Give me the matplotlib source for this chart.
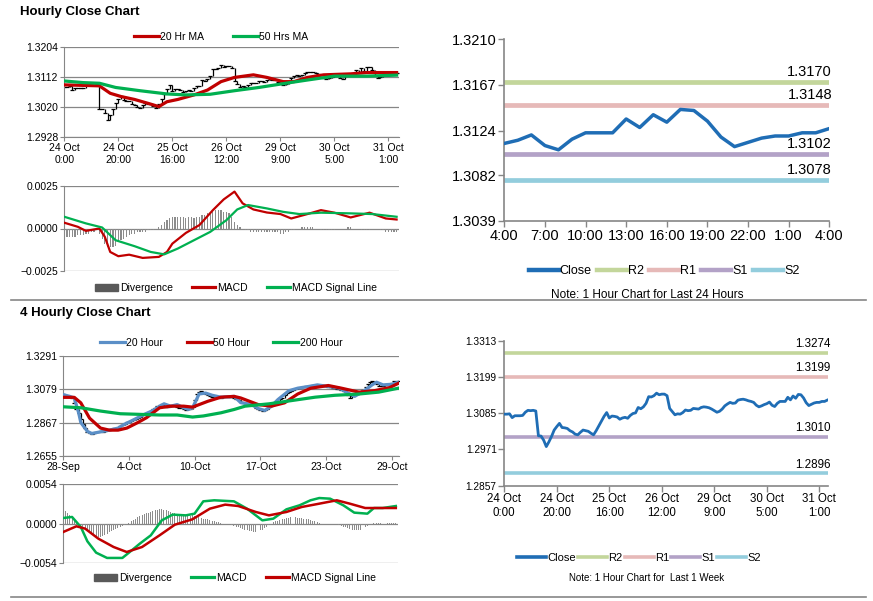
import matplotlib
matplotlib.use("Agg")
import matplotlib.pyplot as plt
from matplotlib import font_manager
import numpy as np

plt.rcParams['font.family'] = ['Liberation Sans', 'DejaVu Sans']

try:
    font_manager.findfont('Liberation Sans Narrow', fallback_to_default=False)
    NARROW = ['Liberation Sans Narrow', 'Liberation Sans']
    NARROW_SIZE = 12
except ValueError:
    NARROW = ['Liberation Sans']
    NARROW_SIZE = 10.5

W, H = 873, 601
GRAY = '#868686'
RED = '#c00000'
GREEN = '#00b050'
BLUE = '#5b8fc7'
CLOSE_BLUE = '#1f6db5'
LEVEL_COLORS = ['#c3d69b', '#e6b9b8', '#b3a2c7', '#93cddd']
LEVEL_NAMES = ['R2', 'R1', 'S1', 'S2']

# ---- hourly data (24 Oct 0:00 .. 31 Oct 4:00) ----
close_1h = [
    1.3082, 1.3082, 1.3083, 1.3071, 1.3077, 1.3077, 1.3077, 1.3078, 1.3088, 1.3094,
    1.3093, 1.3094, 1.3092, 1.3014, 1.3013, 1.3000, 1.2980, 1.2995, 1.3012, 1.3032,
    1.3043, 1.3053, 1.3040, 1.3039, 1.3037, 1.3030, 1.3026, 1.3019, 1.3017, 1.3025,
    1.3032, 1.3030, 1.3028, 1.3022, 1.3017, 1.3030, 1.3045, 1.3060, 1.3075, 1.3087,
    1.3070, 1.3076, 1.3075, 1.3073, 1.3066, 1.3070, 1.3072, 1.3069, 1.3078, 1.3084,
    1.3086, 1.3103, 1.3099, 1.3105, 1.3116, 1.3137, 1.3136, 1.3140, 1.3148, 1.3143,
    1.3145, 1.3145, 1.3140, 1.3100, 1.3090, 1.3080, 1.3083, 1.3082, 1.3087, 1.3095,
    1.3093, 1.3094, 1.3100, 1.3099, 1.3098, 1.3103, 1.3105, 1.3104, 1.3102, 1.3098,
    1.3093, 1.3088, 1.3091, 1.3098, 1.3108, 1.3114, 1.3119, 1.3116, 1.3117, 1.3126,
    1.3128, 1.3129, 1.3127, 1.3124, 1.3122, 1.3119, 1.3110, 1.3105, 1.3108,
    1.3112, 1.3115, 1.3120, 1.3110, 1.3106, 1.3116, 1.3122, 1.3122, 1.3122, 1.3135,
    1.3127, 1.3139, 1.3132, 1.3144, 1.3143, 1.3133, 1.3118, 1.3109, 1.3113, 1.3117,
    1.3119, 1.3119, 1.3122, 1.3122, 1.3126,
]
hour_ticks = ['24 Oct\n0:00', '24 Oct\n20:00', '25 Oct\n16:00', '26 Oct\n12:00',
              '29 Oct\n9:00', '30 Oct\n5:00', '31 Oct\n1:00']

ma20_1h_idx = [0, 13, 17, 21, 26, 31, 35, 38, 42, 48, 53, 58, 63, 70, 75, 81, 85, 90, 96, 106, 112, 123]
ma20_1h = [1.3088, 1.3085, 1.3062, 1.3052, 1.3043, 1.3031, 1.3021, 1.3036, 1.3043, 1.3057, 1.3072,
           1.3098, 1.3111, 1.3119, 1.3111, 1.3098, 1.3098, 1.3111, 1.3119, 1.3122, 1.3126, 1.3126]
ma50_1h_idx = [0, 7, 13, 19, 28, 38, 45, 54, 63, 72, 82, 90, 100, 112, 123]
ma50_1h = [1.3100, 1.3095, 1.3093, 1.3080, 1.3070, 1.3060, 1.3057, 1.3059, 1.3070, 1.3080,
           1.3093, 1.3103, 1.3115, 1.3115, 1.3118]

macd_1h_idx = [0, 5, 8, 13, 15, 17, 20, 24, 29, 35, 38, 40, 45, 50, 55, 59, 63, 66, 70, 75,
               80, 84, 90, 95, 100, 106, 113, 119, 123]
macd_1h = [0.00034, 0.00010, -0.00014, 0.00000, -0.00049, -0.00138, -0.00163, -0.00154, -0.00173,
           -0.00167, -0.00138, -0.00089, -0.00026, 0.00020, 0.00108, 0.00171, 0.00217, 0.00148,
           0.00112, 0.00094, 0.00085, 0.00059, 0.00085, 0.00108, 0.00093, 0.00065, 0.00093,
           0.00059, 0.00053]
signal_1h_idx = [0, 8, 14, 19, 26, 32, 37, 42, 48, 54, 60, 64, 68, 75, 81, 87, 95, 106, 114, 123]
signal_1h = [0.00069, 0.00030, 0.00006, -0.00069, -0.00104, -0.00138, -0.00152, -0.00118, -0.00069,
             -0.00020, 0.00049, 0.00112, 0.00138, 0.00118, 0.00098, 0.00085, 0.00093, 0.00089,
             0.00085, 0.00069]
# divergence in units of 1e-4
div_1h = [
    -5, -5, -5, -5, -5, -4, -4, -4, -3, -3, -2, -2,
    -1, -3, -6, -9, -11, -11, -11, -10, -8, -7, -6, -5, -4,
    -3, -3, -2, -2, -2, -2, -1, -1, -1, 0, 1, 2,
    4, 5, 6, 7, 7, 7, 7, 7, 6, 7, 7, 6, 7, 7, 8, 8, 9, 10, 10, 11, 11, 11, 10, 10, 9,
    7, 4, 2, 1, 0,
    -1, -1, -2, -2, -2, -2, -2, -2, -2, -2, -2, -2, -2, -3, -3, -2, -2, -1, -1, 0, 0,
    1, 1, 1, 1, 1, 0, 0, -1, -1, -1, -1, -1, -1, 0, 0, 0, 0, 1, 1, 0, 0, 0,
    -1, -1, -1, -1, 0, 0, 0, -1, -1, -2, -2, -2, -2, -2,
]

# ---- last 24 hours / pivot levels ----
close_24h = close_1h[-25:]
ticks_24h = ['4:00', '7:00', '10:00', '13:00', '16:00', '19:00', '22:00', '1:00', '4:00']
levels_24h = [1.3170, 1.3148, 1.3102, 1.3078]
levels_1w = [1.3274, 1.3199, 1.3010, 1.2896]

# ---- 4 hourly data (28 Sep .. 29 Oct) ----
close_4h = [
    1.3045, 1.3040, 1.3036, 1.3030, 1.3022, 1.2990, 1.2955, 1.2930, 1.2890, 1.2860,
    1.2830, 1.2810, 1.2800, 1.2795, 1.2800, 1.2805, 1.2808, 1.2812, 1.2810, 1.2815,
    1.2820, 1.2818, 1.2825, 1.2830, 1.2828, 1.2835, 1.2845, 1.2852, 1.2860, 1.2868,
    1.2872, 1.2880, 1.2885, 1.2892, 1.2898, 1.2905, 1.2912, 1.2920, 1.2925, 1.2935,
    1.2942, 1.2950, 1.2960, 1.2972, 1.2980, 1.2985, 1.2978, 1.2968, 1.2965, 1.2975,
    1.2978, 1.2972, 1.2968, 1.2962, 1.2958, 1.2950, 1.2948, 1.2952, 1.2956, 1.2965,
    1.3010, 1.3045, 1.3060, 1.3065, 1.3055, 1.3050, 1.3040, 1.3035, 1.3030, 1.3035,
    1.3032, 1.3028, 1.3025, 1.3030, 1.3035, 1.3030, 1.3028, 1.3032, 1.3025, 1.3018,
    1.3010, 1.3000, 1.2995, 1.2992, 1.2990, 1.2985, 1.2978, 1.2970, 1.2960, 1.2955,
    1.2945, 1.2940, 1.2945, 1.2955, 1.2968, 1.2975, 1.2985, 1.2995, 1.3005, 1.3015,
    1.3025, 1.3040, 1.3055, 1.3060, 1.3068, 1.3075, 1.3080, 1.3085, 1.3088, 1.3092,
    1.3095, 1.3098, 1.3100, 1.3102, 1.3105, 1.3108, 1.3105, 1.3108, 1.3104, 1.3100,
    1.3098, 1.3095, 1.3090, 1.3088, 1.3085, 1.3082, 1.3080, 1.3075, 1.3070, 1.3060,
    1.3040, 1.3020, 1.3035, 1.3045, 1.3050, 1.3055, 1.3062, 1.3075, 1.3090, 1.3110,
    1.3125, 1.3130, 1.3122, 1.3110, 1.3100, 1.3098, 1.3100, 1.3105, 1.3110, 1.3112,
    1.3120, 1.3130, 1.3125, 1.3128,
]
ticks_4h = ['28-Sep', '4-Oct', '10-Oct', '17-Oct', '23-Oct', '29-Oct']

ma20_4h_idx = [0, 3, 5, 7, 8, 11, 13, 15, 18, 21, 25, 28, 31, 34, 37, 41, 44, 46, 49, 52, 55, 57,
               59, 62, 65, 68, 72, 78, 81, 86, 89, 92, 95, 98, 103, 107, 112, 116, 121, 126, 130,
               133, 137, 141, 143, 146, 150, 153]
ma20_4h = [1.3044, 1.3033, 1.3023, 1.2929, 1.2867, 1.2811, 1.2798, 1.2803, 1.2811, 1.2819, 1.2832,
           1.2857, 1.2877, 1.2898, 1.2919, 1.2944, 1.2971, 1.2986, 1.2971, 1.2981, 1.2961, 1.2950,
           1.2961, 1.3048, 1.3054, 1.3040, 1.3028, 1.3033, 1.2993, 1.2981, 1.2956, 1.2944, 1.2971,
           1.3013, 1.3069, 1.3085, 1.3096, 1.3106, 1.3096, 1.3085, 1.3054, 1.3033, 1.3065, 1.3106,
           1.3123, 1.3106, 1.3110, 1.3123]
ma50_4h_idx = [0, 5, 8, 12, 17, 21, 25, 29, 34, 38, 44, 49, 55, 59, 66, 72, 78, 81, 89, 95, 101,
               107, 113, 121, 127, 135, 142, 149, 153]
ma50_4h = [1.3027, 1.3027, 1.2992, 1.2895, 1.2832, 1.2819, 1.2819, 1.2832, 1.2867, 1.2898, 1.2961,
           1.2971, 1.2971, 1.2965, 1.3002, 1.3028, 1.3033, 1.3023, 1.2981, 1.2971, 1.2992, 1.3048,
           1.3085, 1.3102, 1.3085, 1.3060, 1.3069, 1.3089, 1.3116]
ma200_4h_idx = [0, 8, 17, 26, 35, 44, 52, 59, 64, 72, 78, 83, 94, 104, 115, 124, 135, 144, 153]
ma200_4h = [1.2967, 1.2961, 1.2940, 1.2923, 1.2919, 1.2915, 1.2915, 1.2902, 1.2909, 1.2929, 1.2950,
            1.2971, 1.2986, 1.3006, 1.3028, 1.3040, 1.3048, 1.3060, 1.3085]

macd_4h_idx = [0, 4, 8, 11, 15, 20, 27, 30, 35, 40, 45, 50, 56, 60, 64, 69, 78, 84, 91, 96, 102,
               108, 113, 117, 122, 128, 133, 139, 142, 146, 152]
macd_4h = [0.00077, 0.00091, -0.00045, -0.00240, -0.00395, -0.00467, -0.00467, -0.00395, -0.00272,
           -0.00159, 0.00045, 0.00123, 0.00113, 0.00136, 0.00304, 0.00318, 0.00304, 0.00204,
           0.00045, 0.00068, 0.00195, 0.00250, 0.00318, 0.00349, 0.00340, 0.00250, 0.00150,
           0.00136, 0.00213, 0.00213, 0.00240]
signal_4h_idx = [0, 6, 10, 16, 23, 29, 36, 44, 51, 59, 67, 74, 80, 88, 94, 102, 109, 117, 125, 131,
                 138, 146, 152]
signal_4h = [-0.00113, -0.00036, -0.00068, -0.00204, -0.00318, -0.00386, -0.00318, -0.00159,
             -0.00014, 0.00059, 0.00204, 0.00259, 0.00240, 0.00159, 0.00113, 0.00159, 0.00227,
             0.00272, 0.00318, 0.00272, 0.00213, 0.00213, 0.00213]
# divergence in units of 1e-4
div_4h = [
    18, 17, 15, 12, 9, 5, 1,
    -2, -4, -6, -8, -10, -12, -14, -15, -17, -18, -18,
    -17, -16, -14, -12, -10, -9, -7, -6, -5, -3, -2, -1,
    1, 3, 5, 7, 9, 10, 12, 13, 14, 15, 16, 17, 18, 19, 20, 20,
    19, 18, 17, 16, 15, 14, 13, 12, 12, 11, 10, 10, 11, 12, 11, 10, 9, 8, 7, 6, 6, 5,
    4, 3, 2, 2, 1, 1, 0, 0,
    -1, -2, -3, -4, -5, -6, -7, -8, -9, -10, -10, -11, -11, -10, -9, -8, -6, -4, -2,
    0, 2, 3, 4, 5, 6, 7, 8, 8, 9, 9, 9, 8, 8, 8, 7, 7, 6, 5, 4, 3, 2, 1,
    0, 0, -1, -1, 0, 0, -1, -1, -2, -3,
    -4, -5, -6, -7, -8, -9, -9, -9, -8, -7, -5, -3, -1,
    0, 1, 1, 1, 1, 0, 0, 1, 1, 1, 1, 1, 1,
]


def px_axes(fig, left, top, right, bottom):
    return fig.add_axes([left / W, 1 - bottom / H, (right - left) / W, (bottom - top) / H])


def grid_style(ax, size=7.5):
    for s in ['top', 'right']:
        ax.spines[s].set_visible(False)
    for s in ['left', 'bottom']:
        ax.spines[s].set_color(GRAY)
    ax.grid(axis='y', color=GRAY, lw=0.9)
    ax.set_axisbelow(True)
    ax.tick_params(colors=GRAY, labelcolor='black', labelsize=size, length=3, width=0.8, pad=1.5)


def plain_style(ax, ysize, xsize):
    for s in ['top', 'right']:
        ax.spines[s].set_visible(False)
    for s in ['left', 'bottom']:
        ax.spines[s].set_color(GRAY)
        ax.spines[s].set_linewidth(1.2)
    ax.tick_params(colors=GRAY, labelcolor='black', length=4, width=1, pad=1.5)
    ax.tick_params(axis='y', labelsize=ysize)
    ax.tick_params(axis='x', labelsize=xsize)


def price_bars(ax, close):
    close = np.asarray(close)
    x = np.arange(len(close))
    prev = np.r_[close[0], close[:-1]]
    ax.vlines(x, np.minimum(prev, close), np.maximum(prev, close), color='black', lw=0.9, zorder=2)
    ax.plot(x, close, ls='none', marker='_', ms=2.5, mew=0.9, color='black', zorder=2)


def fig_legend(ax, center_px, size, ncol, handles=None, **kw):
    cx, cy = center_px
    if handles is None:
        handles, _ = ax.get_legend_handles_labels()
    return ax.legend(handles=handles, loc='center', bbox_to_anchor=(cx / W, 1 - cy / H),
                     bbox_transform=fig.transFigure, ncol=ncol, frameon=False, fontsize=size,
                     borderaxespad=0, borderpad=0, **kw)


fig = plt.figure(figsize=(W / 100, H / 100), dpi=100)

# titles and separators
fig.text(20 / W, 1 - 12 / H, 'Hourly Close Chart', fontsize=9.5, fontweight='bold', va='center')
fig.text(20 / W, 1 - 313 / H, '4 Hourly Close Chart', fontsize=9.5, fontweight='bold', va='center')
for ysep in [300, 597]:
    fig.add_artist(plt.Line2D([11 / W, 866 / W], [1 - ysep / H] * 2, color=GRAY, lw=1.2))

# ---------------- hourly close chart ----------------
ax = px_axes(fig, 64.3, 47.3, 399.3, 136.7)
grid_style(ax)
price_bars(ax, close_1h)
ax.plot(ma20_1h_idx, ma20_1h, color=RED, lw=2.3, label='20 Hr MA', zorder=3)
ax.plot(ma50_1h_idx, ma50_1h, color=GREEN, lw=2.3, label='50 Hrs MA', zorder=3)
ax.set_xlim(0, 124)
ax.set_ylim(1.2928, 1.3204)
ax.set_yticks([1.2928, 1.3020, 1.3112, 1.3204])
ax.yaxis.set_major_formatter('{x:.4f}')
ax.set_xticks(np.arange(len(hour_ticks)) * 20)
ax.set_xticklabels(hour_ticks)
fig_legend(ax, (221, 37), 7.5, 2, handlelength=2.4, handletextpad=0.1, columnspacing=2.8)

# hourly MACD
ax = px_axes(fig, 64.3, 186, 399.3, 271)
grid_style(ax)
bars = ax.bar(np.arange(len(div_1h)), np.array(div_1h) * 1e-4, width=0.45, color='#8c8c8c',
              label='Divergence', zorder=2)
l1, = ax.plot(macd_1h_idx, macd_1h, color=RED, lw=1.6, label='MACD', zorder=3)
l2, = ax.plot(signal_1h_idx, signal_1h, color=GREEN, lw=1.6, label='MACD Signal Line', zorder=3)
ax.set_xlim(0, 124)
ax.set_ylim(-0.0025, 0.0025)
ax.set_yticks([-0.0025, 0.0, 0.0025])
ax.yaxis.set_major_formatter('{x:.4f}')
ax.set_xticks([])
ax.spines['bottom'].set_visible(False)
leg = fig_legend(ax, (236, 288), 7.5, 3, handles=[bars, l1, l2], handlelength=2.2,
                 handletextpad=0.15, columnspacing=1.9)
leg.legend_handles[0].set_color('#595959')
for h in leg.legend_handles[1:]:
    h.set_linewidth(2.3)

# ---------------- last 24 hours ----------------
ax = px_axes(fig, 504.3, 39.3, 829.3, 221)
plain_style(ax, NARROW_SIZE, NARROW_SIZE)
ax.plot(np.arange(len(close_24h)), close_24h, color=CLOSE_BLUE, lw=2.5, label='Close', zorder=3)
for lv, name, col in zip(levels_24h, LEVEL_NAMES, LEVEL_COLORS):
    ax.axhline(lv, color=col, lw=3.4, label=name, zorder=2)
    ax.annotate(f'{lv:.4f}', (1.0, lv), xycoords=('axes fraction', 'data'), xytext=(2, 2),
                textcoords='offset points', ha='right', va='bottom', fontsize=NARROW_SIZE,
                family=NARROW)
ax.set_xlim(0, 24)
ax.set_ylim(1.3039, 1.3210)
ax.set_yticks([1.3039, 1.3082, 1.3124, 1.3167, 1.3210])
ax.yaxis.set_major_formatter('{x:.4f}')
ax.set_xticks(np.arange(len(ticks_24h)) * 3)
ax.set_xticklabels(ticks_24h)
for lab in ax.get_xticklabels() + ax.get_yticklabels():
    lab.set_family(NARROW)
leg = fig_legend(ax, (664, 271), NARROW_SIZE - 1.5, 5, handlelength=2.4, handletextpad=0.1,
                 columnspacing=0.4, prop={'family': NARROW, 'size': NARROW_SIZE - 1.5})
for h in leg.legend_handles:
    h.set_linewidth(3.2)
fig.text(647 / W, 1 - 295 / H, 'Note: 1 Hour Chart for Last 24 Hours', ha='center', va='center',
         fontsize=8.5, family=NARROW)

# ---------------- 4 hourly close chart ----------------
ax = px_axes(fig, 63.3, 355.7, 399.3, 456)
grid_style(ax)
price_bars(ax, close_4h)
ax.plot(ma20_4h_idx, ma20_4h, color=BLUE, lw=2.3, label='20 Hour', zorder=3)
ax.plot(ma50_4h_idx, ma50_4h, color=RED, lw=2.3, label='50 Hour', zorder=3)
ax.plot(ma200_4h_idx, ma200_4h, color=GREEN, lw=2.3, label='200 Hour', zorder=3)
ax.set_xlim(0, 153.4)
ax.set_ylim(1.2655, 1.3291)
ax.set_yticks([1.2655, 1.2867, 1.3079, 1.3291])
ax.yaxis.set_major_formatter('{x:.4f}')
ax.set_xticks(np.arange(len(ticks_4h)) * 30)
ax.set_xticklabels(ticks_4h)
fig_legend(ax, (221, 343), 7.5, 3, handlelength=2.4, handletextpad=0.1, columnspacing=2.3)

# 4 hourly MACD
ax = px_axes(fig, 63.3, 484, 398, 563.3)
grid_style(ax)
bars = ax.bar(np.arange(len(div_4h)), np.array(div_4h) * 1e-4, width=0.45, color='#8c8c8c',
              label='Divergence', zorder=2)
l1, = ax.plot(macd_4h_idx, macd_4h, color=GREEN, lw=1.8, label='MACD', zorder=3)
l2, = ax.plot(signal_4h_idx, signal_4h, color=RED, lw=1.8, label='MACD Signal Line', zorder=3)
ax.set_xlim(0, 153)
ax.set_ylim(-0.0054, 0.0054)
ax.set_yticks([-0.0054, 0.0, 0.0054])
ax.yaxis.set_major_formatter('{x:.4f}')
ax.set_xticks([])
ax.spines['bottom'].set_visible(False)
leg = fig_legend(ax, (235, 578), 7.5, 3, handles=[bars, l1, l2], handlelength=2.2,
                 handletextpad=0.15, columnspacing=1.9)
leg.legend_handles[0].set_color('#595959')
for h in leg.legend_handles[1:]:
    h.set_linewidth(2.3)

# ---------------- last 1 week ----------------
ax = px_axes(fig, 504.3, 340.7, 827.7, 485.7)
plain_style(ax, 7.3, 8.3)
ax.plot(np.arange(len(close_1h)), close_1h, color=CLOSE_BLUE, lw=2, label='Close', zorder=3)
for lv, name, col in zip(levels_1w, LEVEL_NAMES, LEVEL_COLORS):
    ax.axhline(lv, color=col, lw=2.6, label=name, zorder=2)
    ax.annotate(f'{lv:.4f}', (1.0, lv), xycoords=('axes fraction', 'data'), xytext=(2, 2),
                textcoords='offset points', ha='right', va='bottom', fontsize=8.4)
ax.set_xlim(0, 123.2)
ax.set_ylim(1.2857, 1.3313)
ax.set_yticks([1.2857, 1.2971, 1.3085, 1.3199, 1.3313])
ax.yaxis.set_major_formatter('{x:.4f}')
ax.set_xticks(np.arange(len(hour_ticks)) * 20)
ax.set_xticklabels(hour_ticks)
leg = fig_legend(ax, (639, 558), 8, 5, handlelength=2.6, handletextpad=0.1, columnspacing=0.2)
for h in leg.legend_handles:
    h.set_linewidth(2.6)
fig.text(647 / W, 1 - 578 / H, 'Note: 1 Hour Chart for  Last 1 Week', ha='center', va='center',
         fontsize=7, family=NARROW)

fig.savefig('out.png', dpi=100)
